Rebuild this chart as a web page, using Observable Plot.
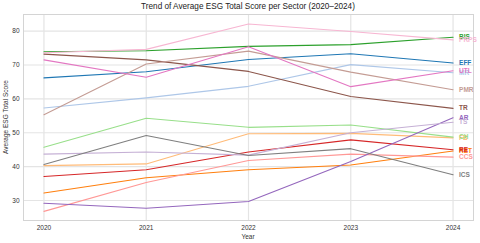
<!DOCTYPE html>
<html>
<head>
<meta charset="utf-8">
<script src="https://cdn.jsdelivr.net/npm/d3@7"></script>
<script src="https://cdn.jsdelivr.net/npm/@observablehq/plot@0.6"></script>
<style>
  html, body { margin: 0; padding: 0; background: #fff; }
  #wrap { position: relative; width: 480px; height: 243px; font-family: "Liberation Sans", Arial, sans-serif; color: #333; }
  #title { position: absolute; top: 1px; left: 23px; width: 450px; text-align: center; font-size: 8.2px; color: #222; line-height: 11px; }
  #xlabel { position: absolute; top: 232px; left: 23px; width: 450px; text-align: center; font-size: 6.5px; line-height: 9px; }
  #ylabel { position: absolute; left: 6px; top: 117px; font-size: 6.5px; line-height: 8px; white-space: nowrap; transform: translate(-50%, -50%) rotate(-90deg); }
  svg { display: block; }
</style>
</head>
<body>
<div id="wrap">
  <div id="title">Trend of Average ESG Total Score per Sector (2020–2024)</div>
  <div id="xlabel">Year</div>
  <div id="ylabel">Average ESG Total Score</div>
</div>
<script>
const years = [2020, 2021, 2022, 2023, 2024];
const sectors = ["EFF", "MR", "RET", "FB", "BIS", "CH", "RE", "CCS", "AR", "TS", "TR", "PMR", "UTL", "PRPS", "ICS"];
const colors = ["#1f77b4", "#aec7e8", "#ff7f0e", "#ffbb78", "#2ca02c", "#98df8a", "#d62728", "#ff9896",
                "#9467bd", "#c5b0d5", "#8c564b", "#c49c94", "#e377c2", "#f7b6d2", "#7f7f7f"];

const EFF  = [66.2, 68.0, 71.6, 73.3, 70.6];
const MR   = [57.3, 60.3, 63.7, 70.1, 67.7];
const RET  = [32.2, 36.7, 39.1, 40.5, 44.6];
const FB   = [40.3, 40.8, 49.7, 49.8, 48.5];
const BIS  = [73.9, 74.2, 75.5, 76.0, 78.2];
const CH   = [45.7, 54.3, 51.6, 52.3, 48.7];
const RE   = [37.1, 39.1, 44.3, 47.9, 45.0];
const CCS  = [26.8, 35.3, 41.8, 43.7, 42.8];
const AR   = [29.2, 27.7, 29.7, 41.5, 54.4];
const TS   = [43.7, 44.3, 43.4, 50.0, 53.1];
const TR   = [73.2, 71.5, 68.1, 60.7, 57.2];
const PMR  = [55.3, 70.3, 74.1, 67.9, 62.7];
const UTL  = [71.5, 66.4, 75.4, 63.6, 68.3];
const PRPS = [73.6, 74.6, 82.1, 79.9, 77.4];
const ICS  = [40.6, 49.2, 43.3, 45.3, 37.6];

const series = [EFF, MR, RET, FB, BIS, CH, RE, CCS, AR, TS, TR, PMR, UTL, PRPS, ICS];
const yTicks = [30, 40, 50, 60, 70, 80];

const rows = [];
sectors.forEach((s, i) => years.forEach((y, j) => rows.push({sector: s, year: y, score: series[i][j]})));
const last = rows.filter(d => d.year === years[years.length - 1]);

const chart = Plot.plot({
  width: 480,
  height: 243,
  marginTop: 14,
  marginBottom: 23,
  marginLeft: 23,
  marginRight: 7,
  style: {fontFamily: "Liberation Sans, Arial, sans-serif", fontSize: "6.5px", color: "#333", background: "#fff"},
  x: {domain: [2019.8, 2024.2], ticks: years, tickFormat: d => String(d), tickSize: 0, tickPadding: 5, label: null},
  y: {domain: [24.1, 84.9], ticks: yTicks, tickSize: 0, tickPadding: 4, label: null},
  color: {domain: sectors, range: colors},
  marks: [
    Plot.gridX(years, {stroke: "#e4e4e4", strokeOpacity: 1, strokeWidth: 1.2}),
    Plot.gridY(yTicks, {stroke: "#e4e4e4", strokeOpacity: 1, strokeWidth: 1.2}),
    Plot.frame({stroke: "#d4d4d4", strokeWidth: 1}),
    Plot.line(rows, {x: "year", y: "score", z: "sector", stroke: "sector", strokeWidth: 1.1}),
    Plot.text(last, {x: "year", y: "score", text: "sector", fill: "sector", dx: 6, textAnchor: "start", fontWeight: "bold", fontSize: 6.5})
  ]
});
document.getElementById("wrap").insertBefore(chart, document.getElementById("wrap").firstChild);
</script>
</body>
</html>
